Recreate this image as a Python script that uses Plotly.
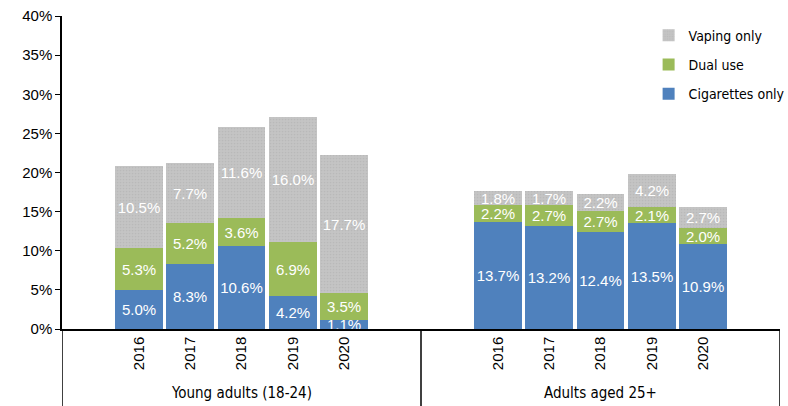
import plotly.graph_objects as go

years = ["2016", "2017", "2018", "2019", "2020"]
groups = ["Young adults (18-24)", "Adults aged 25+"]

young_cig = [5.0, 8.3, 10.6, 4.2, 1.1]
young_dual = [5.3, 5.2, 3.6, 6.9, 3.5]
young_vape = [10.5, 7.7, 11.6, 16.0, 17.7]

adult_cig = [13.7, 13.2, 12.4, 13.5, 10.9]
adult_dual = [2.2, 2.7, 2.7, 2.1, 2.0]
adult_vape = [1.8, 1.7, 2.2, 4.2, 2.7]

series_names = ["Cigarettes only", "Dual use", "Vaping only"]
colors = ["#4F81BD", "#9BBB59", "#BFBFBF"]

# numeric slots: group 1 -> 1..5, group 2 -> 8..12 (empty padding slots between)
x_pos = [1, 2, 3, 4, 5, 8, 9, 10, 11, 12]
series_vals = [young_cig + adult_cig, young_dual + adult_dual, young_vape + adult_vape]

NARROW = "Liberation Sans Narrow, DejaVu Sans Condensed, Arial Narrow"
SANS = "Liberation Sans, Arial"

fig = go.Figure()
for i, (name, vals, col) in enumerate(zip(series_names, series_vals, colors)):
    marker = dict(color=col, line=dict(width=0))
    if name == "Vaping only":
        marker["pattern"] = dict(shape=".", fgcolor="#ADADAD", bgcolor="#C4C4C4", size=3, solidity=0.25)
    fig.add_trace(go.Bar(
        x=x_pos, y=vals, name=name, marker=marker, width=0.93,
        text=[f"{v:.1f}%" for v in vals], textposition="inside", textangle=0,
        insidetextanchor="middle",
        textfont=dict(color="white", size=15, family=SANS),
        legendgroup=name, legendrank=3 - i,
    ))

fig.update_layout(
    barmode="stack",
    width=788, height=406,
    margin=dict(l=62, r=8, t=16, b=77, autoexpand=False),
    plot_bgcolor="white", paper_bgcolor="white",
    uniformtext=dict(minsize=15, mode="show"),
    font=dict(family=SANS, color="black", size=14),
    legend=dict(
        x=0.817, y=0.988, xanchor="left", yanchor="top",
        traceorder="grouped", tracegroupgap=8,
        font=dict(family=NARROW, size=14),
        bgcolor="rgba(0,0,0,0)",
    ),
    xaxis=dict(
        range=[-0.5, 13.5], tickvals=x_pos, ticktext=years * 2, tickangle=-90,
        showline=True, linecolor="black", linewidth=1.5, ticks="", showgrid=False,
        zeroline=False, automargin=False, tickfont=dict(size=15, family=SANS),
    ),
    yaxis=dict(
        range=[0, 40], dtick=5, ticksuffix="%", showgrid=False, zeroline=False,
        showline=True, linecolor="black", linewidth=1.5, ticks="outside", ticklen=5,
        tickcolor="black", automargin=False, tickfont=dict(size=15, family=SANS),
    ),
    bargap=0,
)

# group dividers below the axis
for xv in [-0.5, 6.5, 13.5]:
    fig.add_shape(type="line", xref="x", yref="paper", x0=xv, x1=xv, y0=-0.26, y1=0,
                  line=dict(color="black", width=1.5))

for g, xc in zip(groups, [3, 10]):
    fig.add_annotation(x=xc, xref="x", y=-0.205, yref="paper", text=g, showarrow=False,
                       yanchor="middle", font=dict(family=NARROW, size=15))

fig.write_html("out.html", config={"displayModeBar": False},
               post_script="document.body.style.margin='0';document.body.style.overflow='hidden';")
